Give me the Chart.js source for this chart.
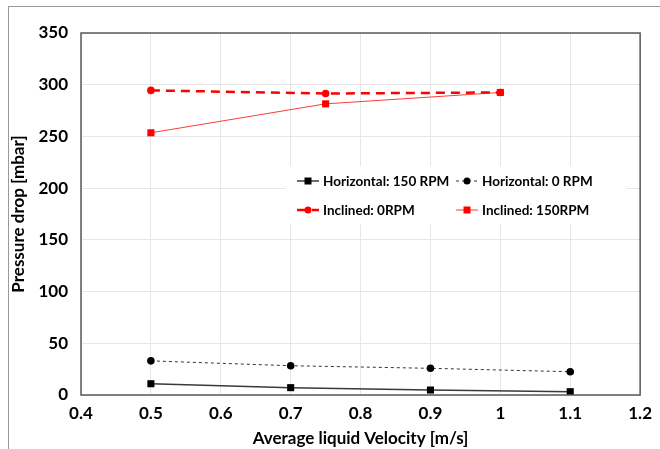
<!DOCTYPE html>
<html>
<head>
<meta charset="utf-8">
<script src="https://cdn.jsdelivr.net/npm/chart.js@4"></script>
<style>
  html, body { margin: 0; padding: 0; background: #fff; }
  #wrap { position: relative; width: 660px; height: 449px; }
  #frame { position: absolute; left: 8px; top: 6px; width: 700px; height: 500px;
           border-left: 1px solid #9a9a9a; border-top: 1px solid #9a9a9a; }
  canvas { position: absolute; left: 0; top: 0; }
</style>
</head>
<body>
<div id="wrap">
  <div id="frame"></div>
  <canvas id="c" width="660" height="449"></canvas>
</div>
<script>
// ==========================================
// DATA
// ==========================================
const horizVelocity  = [0.5, 0.7, 0.9, 1.1];
const horiz150       = [10.9, 7.1, 4.8, 3.2];   // Horizontal: 150 RPM
const horiz0         = [33, 28.3, 25.8, 22.5];  // Horizontal: 0 RPM

const inclVelocity   = [0.5, 0.75, 1.0];
const incl0          = [294.5, 291.5, 292.5];   // Inclined: 0RPM
const incl150        = [253.5, 281.5, 292.5];   // Inclined: 150RPM

const seriesLabels = ['Horizontal: 150 RPM', 'Horizontal: 0 RPM', 'Inclined: 0RPM', 'Inclined: 150RPM'];

const FONT = 'Lato, "Open Sans", sans-serif';

function pts(xs, ys) {
    return xs.map((x, i) => ({ x: x, y: ys[i] }));
}

// plot frame + legend box drawn inside the plot
const framePlugin = {
    id: 'framePlugin',
    afterDatasetsDraw(chart) {
        const a = chart.chartArea;
        const ctx = chart.ctx;
        ctx.save();
        ctx.strokeStyle = '#595959';
        ctx.lineWidth = 1.5;
        ctx.strokeRect(a.left, a.top, a.right - a.left, a.bottom - a.top);
        ctx.restore();
    },
    afterDraw(chart) {
        const ctx = chart.ctx;
        const ds = chart.data.datasets;
        const cols = [297, 456];
        const rows = [181, 210];
        ctx.save();
        ctx.fillStyle = '#fff';
        ctx.fillRect(286, 166, 340, 58);
        ctx.font = 'bold 13.5px ' + FONT;
        ctx.textBaseline = 'middle';
        ctx.textAlign = 'left';
        ds.forEach((d, i) => {
            const x = cols[i % 2], y = rows[Math.floor(i / 2)];
            ctx.strokeStyle = d.borderColor;
            ctx.lineWidth = d.borderWidth;
            ctx.setLineDash(d.borderDash || []);
            ctx.beginPath();
            ctx.moveTo(x, y);
            ctx.lineTo(x + 22, y);
            ctx.stroke();
            ctx.setLineDash([]);
            ctx.fillStyle = d.pointBackgroundColor;
            if (d.pointStyle === 'rect') {
                ctx.fillRect(x + 7.5, y - 3.5, 7, 7);
            } else {
                ctx.beginPath();
                ctx.arc(x + 11, y, 3.5, 0, Math.PI * 2);
                ctx.fill();
            }
            ctx.fillStyle = '#000';
            ctx.fillText(d.label, x + 26, y + 1);
        });
        ctx.restore();
    }
};

new Chart(document.getElementById('c'), {
    type: 'line',
    data: {
        datasets: [
            {
                label: seriesLabels[0],
                data: pts(horizVelocity, horiz150),
                borderColor: '#3a3a3a', borderWidth: 1.5,
                pointStyle: 'rect', pointRadius: 5,
                pointBackgroundColor: '#000', pointBorderWidth: 0
            },
            {
                label: seriesLabels[1],
                data: pts(horizVelocity, horiz0),
                borderColor: '#333', borderWidth: 1, borderDash: [3, 3],
                pointStyle: 'circle', pointRadius: 3.8,
                pointBackgroundColor: '#000', pointBorderWidth: 0
            },
            {
                label: seriesLabels[2],
                data: pts(inclVelocity, incl0),
                borderColor: '#ff0000', borderWidth: 2.5, borderDash: [9, 6],
                pointStyle: 'circle', pointRadius: 3.8,
                pointBackgroundColor: '#ff0000', pointBorderWidth: 0
            },
            {
                label: seriesLabels[3],
                data: pts(inclVelocity, incl150),
                borderColor: '#ff3b3b', borderWidth: 1,
                pointStyle: 'rect', pointRadius: 5,
                pointBackgroundColor: '#ff0000', pointBorderWidth: 0
            }
        ]
    },
    options: {
        responsive: false,
        animation: false,
        layout: { padding: { left: 0, right: 16, top: 33, bottom: 0 } },
        plugins: { legend: { display: false }, tooltip: { enabled: false } },
        scales: {
            x: {
                type: 'linear', min: 0.4, max: 1.2,
                ticks: { stepSize: 0.1, color: '#000', padding: 8,
                         font: { family: FONT, size: 17, weight: 'bold' },
                         callback: v => String(Number(v.toFixed(1))) },
                grid: { color: '#e6e6e6', drawTicks: false },
                border: { display: false },
                title: { display: true, text: 'Average liquid Velocity [m/s]', color: '#000',
                         font: { family: FONT, size: 17, weight: 'bold' }, padding: { top: 0, bottom: 0 } },
                afterFit(s) { s.height = 54; }
            },
            y: {
                min: 0, max: 350,
                ticks: { stepSize: 50, color: '#000', padding: 13,
                         font: { family: FONT, size: 17, weight: 'bold' } },
                grid: { color: '#e6e6e6', drawTicks: false },
                border: { display: false },
                title: { display: true, text: 'Pressure drop [mbar]', color: '#000',
                         font: { family: FONT, size: 17, weight: 'bold' }, padding: { top: 8, bottom: 4 } },
                afterFit(s) { s.width = 81; }
            }
        }
    },
    plugins: [framePlugin]
});
</script>
</body>
</html>
